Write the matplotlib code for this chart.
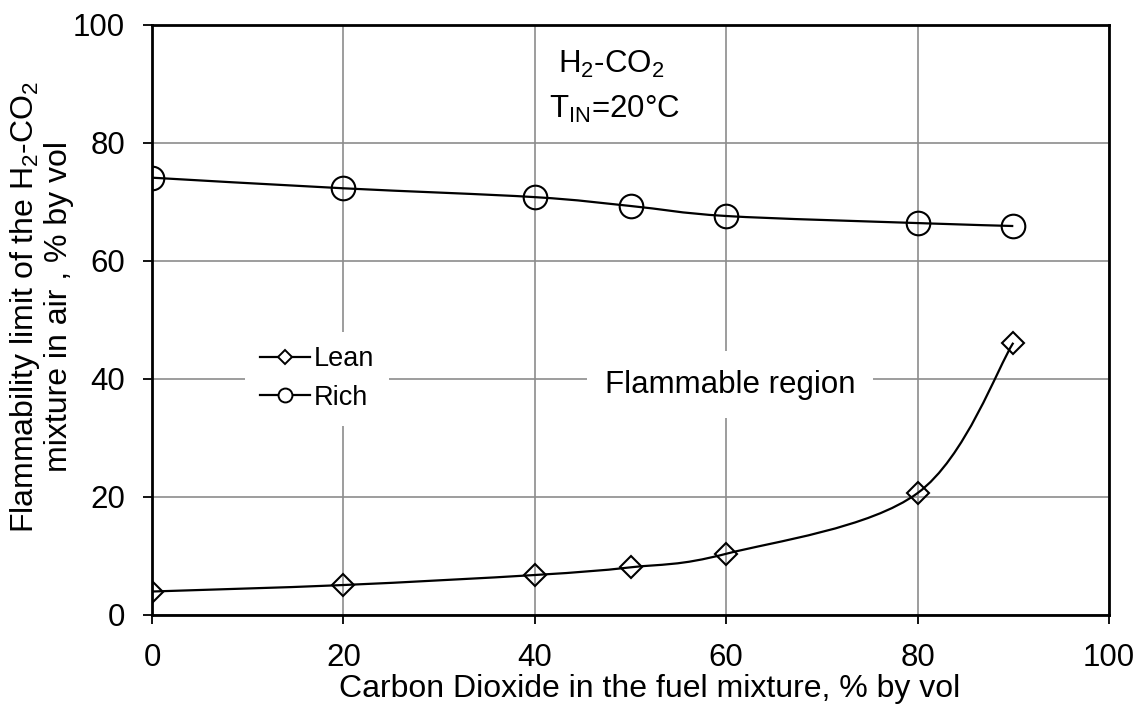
import numpy as np
import matplotlib
matplotlib.use('Agg')
import matplotlib.pyplot as plt
from matplotlib.path import Path
from matplotlib.patches import PathPatch
from matplotlib.lines import Line2D

# ---- data ----
co2_pct = [0, 20, 40, 50, 60, 80, 90]
lean_limit = [3.9, 5.0, 6.7, 8.0, 10.3, 20.6, 46.1]
rich_limit = [74.1, 72.3, 70.8, 69.3, 67.6, 66.4, 65.9]
x_ticks = [0, 20, 40, 60, 80, 100]
y_ticks = [0, 20, 40, 60, 80, 100]

plt.rcParams['font.family'] = ['Liberation Sans', 'DejaVu Sans']
plt.rcParams['mathtext.fontset'] = 'custom'
plt.rcParams['mathtext.rm'] = 'Liberation Sans'
plt.rcParams['mathtext.it'] = 'Liberation Sans:italic'

FS = 22.5


def smooth_path(x, y):
    pts = np.column_stack([np.asarray(x, float), np.asarray(y, float)])
    n = len(pts)
    verts = [pts[0]]
    codes = [Path.MOVETO]
    for i in range(n - 1):
        p0 = pts[i - 1] if i > 0 else pts[i]
        p1 = pts[i]
        p2 = pts[i + 1]
        p3 = pts[i + 2] if i + 2 < n else pts[i + 1]
        c1 = p1 + (p2 - p0) / 6.0
        c2 = p2 - (p3 - p1) / 6.0
        verts += [c1, c2, p2]
        codes += [Path.CURVE4] * 3
    return Path(verts, codes)


fig = plt.figure(figsize=(11.41, 7.04), dpi=100)
ax = fig.add_axes([152 / 1141, 1 - 614.5 / 704, 957 / 1141, 589.5 / 704])

ax.set_xlim(0, 100)
ax.set_ylim(0, 100)
ax.set_xticks(x_ticks)
ax.set_yticks(y_ticks)
ax.grid(True, color='#8c8c8c', linewidth=1.2)
ax.set_axisbelow(True)
for sp in ax.spines.values():
    sp.set_linewidth(2.0)
    sp.set_color('black')
ax.tick_params(direction='out', length=6.5, width=1.3, labelsize=FS)
ax.tick_params(axis='x', pad=14)
ax.tick_params(axis='y', pad=13)

# smooth curves
for ys in (lean_limit, rich_limit):
    ax.add_patch(PathPatch(smooth_path(co2_pct, ys), facecolor='none',
                           edgecolor='black', linewidth=1.6, zorder=3))

ax.plot(co2_pct, lean_limit, linestyle='none', marker='D', markersize=11.5,
        markerfacecolor='none', markeredgecolor='black', markeredgewidth=1.5, zorder=4)
ax.plot(co2_pct, rich_limit, linestyle='none', marker='o', markersize=17,
        markerfacecolor='none', markeredgecolor='black', markeredgewidth=1.5, zorder=4)

handles = [Line2D([], [], color='black', linewidth=1.6, marker='D', markersize=7.6,
                  markerfacecolor='white', markeredgecolor='black', markeredgewidth=1.4),
           Line2D([], [], color='black', linewidth=1.6, marker='o', markersize=10,
                  markerfacecolor='white', markeredgecolor='black', markeredgewidth=1.4)]
leg = ax.legend(handles, ['Lean', 'Rich'], loc='center left',
                bbox_to_anchor=(0.0972, 0.4003), fontsize=19.5, frameon=True,
                fancybox=False, framealpha=1, edgecolor='none', facecolor='white',
                handlelength=1.85, handletextpad=0.15, labelspacing=0.45,
                borderpad=0.55, borderaxespad=0)

ax.text(60.4, 39.0, 'Flammable region', fontsize=FS, ha='center', va='center',
        zorder=5, bbox=dict(facecolor='white', edgecolor='none', pad=13))
ax.text(48.0, 91.86, r'$\mathregular{H_2}$-$\mathregular{CO_2}$', fontsize=FS,
        ha='center', va='baseline', zorder=5)
ax.text(48.3, 84.2, r'$\mathregular{T_{IN}}$=20°C', fontsize=FS,
        ha='center', va='baseline', zorder=5)

ax.set_xlabel('Carbon Dioxide in the fuel mixture, % by vol', fontsize=23)
ax.set_ylabel('Flammability limit of the $\\mathregular{H_2}$-$\\mathregular{CO_2}$\n'
              'mixture in air , % by vol', fontsize=23, linespacing=1.07)
ax.xaxis.set_label_coords(0.52, -0.101)
ax.yaxis.set_label_coords(-0.0815, 0.522)

fig.savefig('out.png', dpi=100)
